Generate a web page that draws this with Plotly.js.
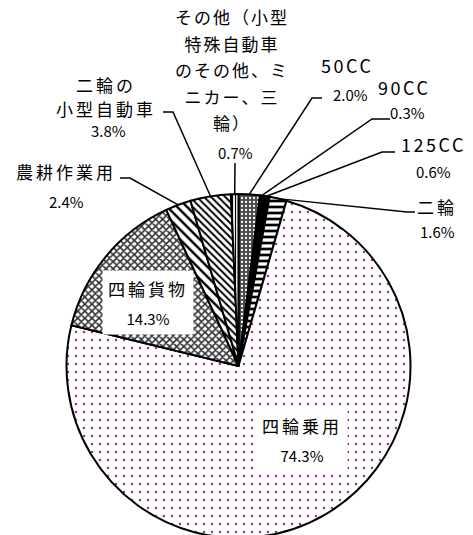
<!DOCTYPE html>
<html>
<head>
<meta charset="utf-8">
<script src="https://cdn.plot.ly/plotly-3.0.1.min.js"></script>
<style>
html,body{margin:0;padding:0;overflow:hidden;background:#fff;}
#chart{width:473px;height:538px;}
</style>
</head>
<body>
<div id="chart"></div>
<script>
// ---- data ----
const categories = ['50CC','90CC','125CC','二輪','四輪乗用','四輪貨物','農耕作業用','二輪の小型自動車','その他（小型特殊自動車のその他、ミニカー、三輪）'];
const shares = [2.0, 0.3, 0.6, 1.6, 74.3, 14.3, 2.4, 3.8, 0.7];
const nameLines = ['50CC','90CC','125CC','二輪','四輪乗用','四輪貨物','農耕作業用','二輪の<br>小型自動車','その他（小型<br>特殊自動車<br>のその他、ミ<br>ニカー、三<br>輪）'];

// ---- geometry / styling ----
const W = 473, H = 538, CX = 238.5, CY = 366, R = 172;
const px = x => x / W, py = y => 1 - y / H;
const FONT = 'Noto Sans CJK JP, sans-serif';

const fillColor = ['#444','#000','#000','#000','#993399','#444','#000','#000','#000'];
const patShape  = ['.','','','-','.','x','\\','\\','|'];
const patFg     = ['#fff','#000','#000','#000','#993399','#333','#000','#000','#000'];
const patBg     = ['#4a4a4a','#000','#000','#fff','#fff','#fff','#fff','#fff','#fff'];
const patSize   = [4,6,6,6,8,5,7,5,3];
const patSolid  = [0.25,0.3,0.3,0.45,0.08,0.55,0.35,0.4,0.4];

// label layout (pixel positions)
const labelCfg = [
  {name:[347,65], pct:[350,94], ls:2.5, fs:18, lead:[[322,98],[312,98]]},
  {name:[404,87], pct:[407,113], ls:2.5, fs:18, lead:[[390,119],[372,119]]},
  {name:[433,144], pct:[433,172], ls:2.5, fs:18, lead:[[395,152],[382,152]]},
  {name:[437,206], pct:[437,231], ls:3, lead:[[415,212],[407,212]]},
  {box:[302,439], ls:3, lh:22},
  {box:[148,302], ls:3, lh:22},
  {name:[66,172], pct:[66,201], ls:3, lead:[[120,178],[130,178]]},
  {name:[106,96], pct:[108,131], ls:3, lh:18.5, lead:[[163,112],[173,112]]},
  {name:[232,69], pct:[235,152], ls:2, lh:20.4, lead:[[235,163]]}
];

const total = shares.reduce((a,b)=>a+b,0);
let cum = 0;
const arcPts = shares.map(v => {
  const th = 2*Math.PI*(cum + v/2)/total;
  cum += v;
  return [CX + R*Math.sin(th), CY - R*Math.cos(th)];
});

const annotations = [];
const shapes = [];
categories.forEach((c,i) => {
  const cfg = labelCfg[i];
  const pctTxt = shares[i].toFixed(1) + '%';
  const nameSpan = `<span style="font-size:${cfg.fs || 17}px;letter-spacing:${cfg.ls}px">${nameLines[i]}</span>`;
  if (cfg.box) {
    annotations.push({
      xref:'paper', yref:'paper', x:px(cfg.box[0]), y:py(cfg.box[1]),
      xanchor:'center', yanchor:'middle', showarrow:false,
      text: nameSpan + '<br><span style="font-size:15px">' + pctTxt + '</span>',
      font:{family:FONT, size:cfg.lh, color:'#000'},
      bgcolor:'#fff', borderpad:5
    });
  } else {
    annotations.push({
      xref:'paper', yref:'paper', x:px(cfg.name[0]), y:py(cfg.name[1]),
      xanchor:'center', yanchor:'middle', showarrow:false,
      text: nameSpan, font:{family:FONT, size:cfg.lh || 17, color:'#000'}
    });
    annotations.push({
      xref:'paper', yref:'paper', x:px(cfg.pct[0]), y:py(cfg.pct[1]),
      xanchor:'center', yanchor:'middle', showarrow:false,
      text: pctTxt, font:{family:FONT, size:15, color:'#000'}
    });
    const pts = cfg.lead.concat([arcPts[i]]);
    const d = pts.map((p,k) => (k? 'L ':'M ') + px(p[0]) + ' ' + py(p[1])).join(' ');
    shapes.push({type:'path', xref:'paper', yref:'paper', path:d, line:{color:'#000', width:1.5}});
  }
});

const trace = {
  type:'pie',
  labels: categories,
  values: shares,
  sort:false,
  direction:'clockwise',
  rotation:0,
  textinfo:'none',
  hoverinfo:'label+percent',
  showlegend:false,
  domain:{x:[px(CX-R), px(CX+R)], y:[py(CY+R), py(CY-R)]},
  marker:{
    colors: fillColor,
    line:{color:'#000', width:2},
    pattern:{shape:patShape, fgcolor:patFg, bgcolor:patBg, size:patSize, solidity:patSolid, fillmode:'replace'}
  }
};

const layout = {
  width:W, height:H,
  margin:{l:0,r:0,t:0,b:0},
  paper_bgcolor:'#fff',
  font:{family:FONT},
  annotations: annotations,
  shapes: shapes
};

Plotly.newPlot('chart', [trace], layout, {displayModeBar:false, staticPlot:true});
</script>
</body>
</html>
